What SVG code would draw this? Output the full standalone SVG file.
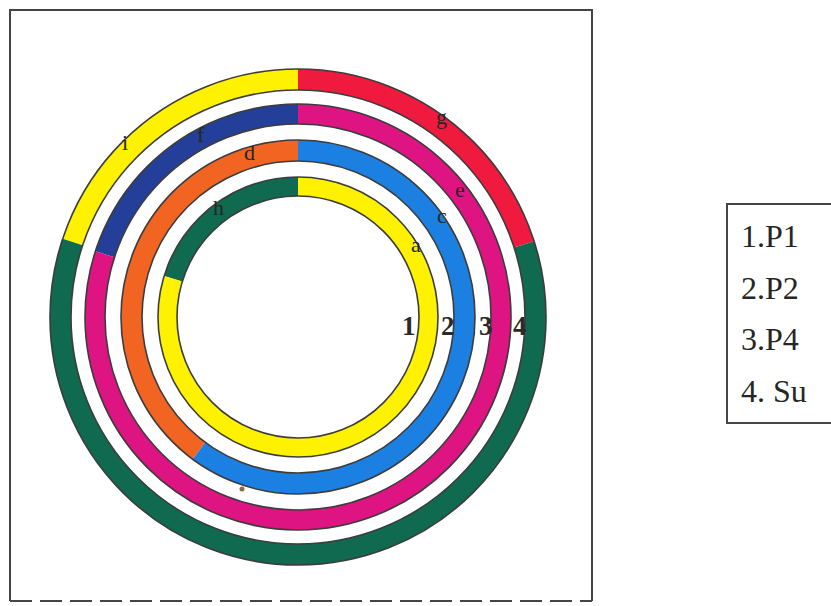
<svg xmlns="http://www.w3.org/2000/svg" width="831" height="606" viewBox="0 0 831 606">
<style>
.frame{fill:none;stroke:#454545;stroke-width:2}
.ring{fill:none;stroke:#3c3c3c;stroke-width:1.6}
.lbl{font-family:"Liberation Serif","Times New Roman",serif;font-size:22px;fill:#262626}
.num{font-family:"Liberation Serif","Times New Roman",serif;font-size:27px;font-weight:bold;fill:#2a2a2a}
.leg{font-family:"Liberation Serif","Times New Roman",serif;font-size:32px;fill:#262626}
.yellow{fill:#FFF200}.red{fill:#EF1A3E}.magenta{fill:#DE1482}.blue{fill:#1C80E2}
.navy{fill:#243F99}.orange{fill:#F26422}.green{fill:#0F6A50}
</style>
<rect width="831" height="606" fill="#ffffff"/>
<g id="frame">
<path class="frame" d="M10,601 V10 H592 V601"/>
<path class="frame" d="M10,601 H592" stroke-dasharray="22 8"/>
</g>
<g id="ring4">
<path class="yellow" d="M298,69 A248,248 0 0 0 62.67,238.73 L82.60,245.36 A227,227 0 0 1 298,90 Z"/>
<path class="red" d="M298,69 A248,248 0 0 1 534.12,241.19 L514.13,247.61 A227,227 0 0 0 298,90 Z"/>
<path class="green" d="M62.67,238.73 A248,248 0 1 0 534.12,241.19 L514.13,247.61 A227,227 0 1 1 82.60,245.36 Z"/>
<circle class="ring" cx="298" cy="317" r="248"/>
<circle class="ring" cx="298" cy="317" r="227"/>
</g>
<g id="ring3">
<path class="navy" d="M298,104 A213,213 0 0 0 95.42,251.18 L114.44,257.36 A193,193 0 0 1 298,124 Z"/>
<path class="magenta" d="M95.42,251.18 A213,213 0 1 0 298,104 L298,124 A193,193 0 1 1 114.44,257.36 Z"/>
<circle class="ring" cx="298" cy="317" r="213"/>
<circle class="ring" cx="298" cy="317" r="193"/>
</g>
<g id="ring2">
<path class="orange" d="M298,140 A177,177 0 0 0 192.72,459.29 L205.21,442.41 A156,156 0 0 1 298,161 Z"/>
<path class="blue" d="M192.72,459.29 A177,177 0 1 0 298,140 L298,161 A156,156 0 1 1 205.21,442.41 Z"/>
<circle class="ring" cx="298" cy="317" r="177"/>
<circle class="ring" cx="298" cy="317" r="156"/>
</g>
<g id="ring1">
<path class="green" d="M298,177 A140,140 0 0 0 164.12,276.07 L182.29,281.62 A121,121 0 0 1 298,196 Z"/>
<path class="yellow" d="M164.12,276.07 A140,140 0 1 0 298,177 L298,196 A121,121 0 1 1 182.29,281.62 Z"/>
<circle class="ring" cx="298" cy="317" r="140"/>
<circle class="ring" cx="298" cy="317" r="121"/>
</g>
<g id="segment-labels">
<text class="lbl" x="122" y="150">i</text>
<text class="lbl" x="197" y="142">f</text>
<text class="lbl" x="244" y="160">d</text>
<text class="lbl" x="213" y="215">h</text>
<text class="lbl" x="436" y="124">g</text>
<text class="lbl" x="455" y="197">e</text>
<text class="lbl" x="437" y="223">c</text>
<text class="lbl" x="411" y="252">a</text>
</g>
<g id="ring-numbers">
<text class="num" x="402" y="335">1</text>
<text class="num" x="441" y="335">2</text>
<text class="num" x="479" y="335">3</text>
<text class="num" x="513" y="335">4</text>
</g>
<circle cx="242" cy="489" r="2.5" fill="#8a6a4a"/>
<g id="legend">
<path class="frame" d="M831,204 H727 V423 H831"/>
<text class="leg" x="741" y="247">1.P1</text>
<text class="leg" x="741" y="299">2.P2</text>
<text class="leg" x="741" y="350">3.P4</text>
<text class="leg" x="741" y="402">4. Su</text>
</g>
</svg>
